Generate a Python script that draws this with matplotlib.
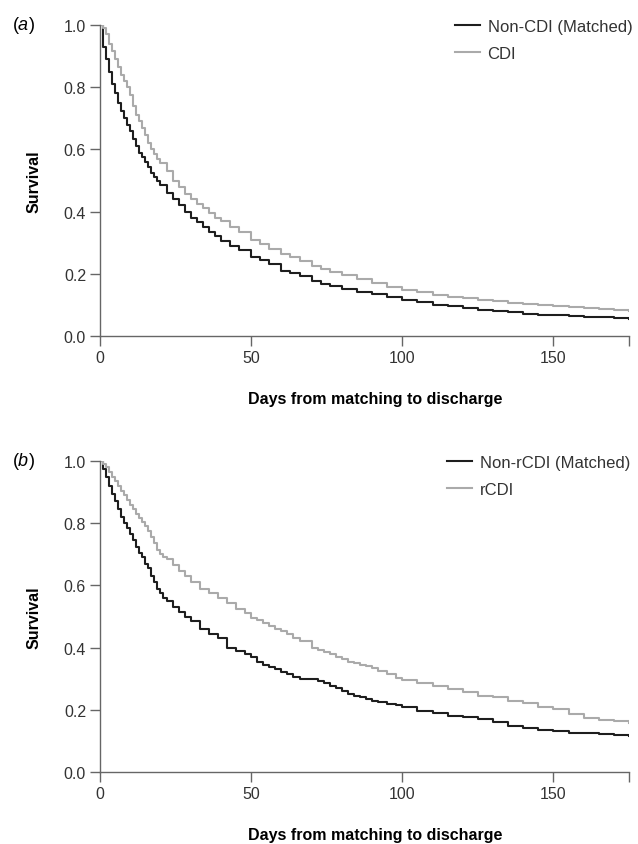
import matplotlib
matplotlib.use('Agg')
import matplotlib.pyplot as plt

plt.rcParams['font.family'] = ['Liberation Sans', 'DejaVu Sans']
plt.rcParams['mathtext.fontset'] = 'custom'
plt.rcParams['mathtext.it'] = 'Liberation Sans:italic'
plt.rcParams['mathtext.rm'] = 'Liberation Sans'

# panel (a): CDI vs matched non-CDI, survival
days_a = [0, 1, 2, 3, 4, 5, 6, 7, 8, 9, 10, 11, 12, 13, 14, 15, 16, 17, 18, 19,
          20, 22, 24, 26, 28, 30, 32, 34, 36, 38, 40, 43, 46, 50, 53, 56, 60, 63,
          66, 70, 73, 76, 80, 85, 90, 95, 100, 105, 110, 115, 120, 125, 130, 135,
          140, 145, 150, 155, 160, 165, 170, 175]
non_cdi = [1.0, 0.93, 0.89, 0.85, 0.81, 0.78, 0.75, 0.725, 0.70, 0.68, 0.66, 0.635,
           0.61, 0.59, 0.575, 0.56, 0.545, 0.525, 0.51, 0.497, 0.485, 0.46, 0.44,
           0.42, 0.40, 0.38, 0.365, 0.35, 0.335, 0.32, 0.305, 0.29, 0.275, 0.255,
           0.243, 0.23, 0.21, 0.202, 0.192, 0.177, 0.168, 0.16, 0.152, 0.143,
           0.135, 0.125, 0.117, 0.108, 0.10, 0.095, 0.09, 0.085, 0.08, 0.076,
           0.072, 0.069, 0.066, 0.064, 0.062, 0.06, 0.058, 0.056]
cdi = [1.0, 0.99, 0.97, 0.94, 0.915, 0.89, 0.865, 0.84, 0.82, 0.80, 0.775, 0.74,
       0.71, 0.69, 0.67, 0.645, 0.62, 0.60, 0.585, 0.57, 0.555, 0.53, 0.50, 0.48,
       0.455, 0.44, 0.425, 0.41, 0.395, 0.38, 0.37, 0.352, 0.334, 0.31, 0.295,
       0.281, 0.265, 0.253, 0.241, 0.225, 0.216, 0.207, 0.195, 0.182, 0.17,
       0.158, 0.148, 0.14, 0.133, 0.127, 0.122, 0.117, 0.112, 0.107, 0.103,
       0.099, 0.096, 0.093, 0.09, 0.087, 0.084, 0.081]

# panel (b): recurrent CDI vs matched non-rCDI
days_b = [0, 1, 2, 3, 4, 5, 6, 7, 8, 9, 10, 11, 12, 13, 14, 15, 16, 17, 18, 19,
          20, 21, 22, 24, 26, 28, 30, 33, 36, 39, 42, 45, 48, 50, 52, 54, 56, 58,
          60, 62, 64, 66, 70, 72, 74, 76, 78, 80, 82, 84, 86, 88, 90, 92, 95, 98,
          100, 105, 110, 115, 120, 125, 130, 135, 140, 145, 150, 155, 160, 165,
          170, 175]
non_rcdi = [1.0, 0.975, 0.95, 0.92, 0.895, 0.87, 0.845, 0.82, 0.80, 0.785, 0.765,
            0.745, 0.725, 0.705, 0.69, 0.67, 0.655, 0.63, 0.61, 0.59, 0.575, 0.56,
            0.55, 0.53, 0.515, 0.50, 0.485, 0.46, 0.445, 0.43, 0.40, 0.39, 0.38,
            0.37, 0.355, 0.345, 0.337, 0.33, 0.322, 0.315, 0.307, 0.30, 0.298,
            0.292, 0.285, 0.278, 0.27, 0.26, 0.25, 0.245, 0.24, 0.234, 0.228,
            0.224, 0.22, 0.214, 0.209, 0.197, 0.19, 0.181, 0.176, 0.17, 0.16,
            0.149, 0.14, 0.135, 0.131, 0.127, 0.124, 0.123, 0.12, 0.115]
rcdi = [1.0, 0.99, 0.98, 0.965, 0.95, 0.935, 0.92, 0.905, 0.89, 0.875, 0.86, 0.845,
        0.83, 0.818, 0.805, 0.79, 0.775, 0.755, 0.735, 0.715, 0.70, 0.692, 0.685,
        0.665, 0.645, 0.63, 0.61, 0.59, 0.575, 0.56, 0.545, 0.525, 0.51, 0.495,
        0.49, 0.48, 0.47, 0.46, 0.453, 0.445, 0.432, 0.42, 0.40, 0.392, 0.385,
        0.378, 0.37, 0.362, 0.355, 0.35, 0.345, 0.34, 0.335, 0.326, 0.315, 0.303,
        0.295, 0.285, 0.275, 0.267, 0.256, 0.245, 0.24, 0.229, 0.221, 0.21,
        0.203, 0.186, 0.175, 0.168, 0.163, 0.156]

xticks = [0, 50, 100, 150, 175]
xticklabels = ['0', '50', '100', '150', '']
yticks = [0.0, 0.2, 0.4, 0.6, 0.8, 1.0]

panels = [
    ('a', days_a, non_cdi, cdi, 'Non-CDI (Matched)', 'CDI', 26, 455),
    ('b', days_b, non_rcdi, rcdi, 'Non-rCDI (Matched)', 'rCDI', 462, 447),
]

W, H = 638, 845
fig = plt.figure(figsize=(W / 100, H / 100), dpi=100)

for tag, days, ref, case, lab_ref, lab_case, top, leg_x in panels:
    bottom = top + 311
    ax = fig.add_axes([100 / W, 1 - bottom / H, 529 / W, 311 / H])
    ax.step(days, ref, where='post', color='#1e1e1e', lw=1.5, label=lab_ref)
    ax.step(days, case, where='post', color='#aaaaaa', lw=1.5, label=lab_case)
    ax.set_xlim(0, 175)
    ax.set_ylim(0, 1)
    ax.set_xticks(xticks)
    ax.set_xticklabels(xticklabels)
    ax.set_yticks(yticks)
    ax.set_yticklabels([f'{v:.1f}' for v in yticks])
    for s in ['top', 'right']:
        ax.spines[s].set_visible(False)
    for s in ['left', 'bottom']:
        ax.spines[s].set_color('#666666')
        ax.spines[s].set_linewidth(1.0)
    ax.tick_params(length=7, width=1.0, color='#666666', labelcolor='#333333',
                   labelsize=11.5, pad=3)
    ax.set_ylabel('Survival', fontsize=11.5, fontweight='bold')
    ax.yaxis.set_label_coords(-58 / 529, 0.5)
    fig.text(375 / W, 1 - (bottom + 63) / H, 'Days from matching to discharge',
             ha='center', va='center', fontsize=11.5, fontweight='bold')
    fig.text(23 / W, 1 - top / H, r'($\it{%s}$)' % tag, ha='center', va='center',
             fontsize=13)
    ax.legend(loc='upper left', bbox_to_anchor=(leg_x / W, 1 - (top - 6) / H),
              bbox_transform=fig.transFigure, frameon=False, fontsize=12,
              handlelength=1.5, handletextpad=0.45, labelspacing=0.7,
              borderpad=0, borderaxespad=0, labelcolor='#333333')

fig.savefig('out.png', dpi=100)
